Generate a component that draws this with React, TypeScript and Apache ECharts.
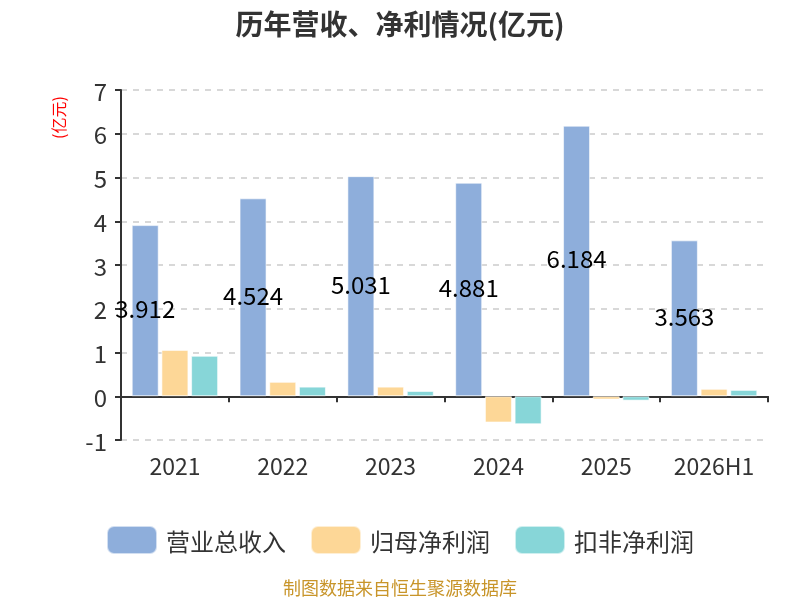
import React, { useEffect, useRef } from "react";
import * as echarts from "echarts";

const categories = ["2021", "2022", "2023", "2024", "2025", "2026H1"];
const revenue = [3.912, 4.524, 5.031, 4.881, 6.184, 3.563];
const netProfit = [1.06, 0.33, 0.22, -0.6, -0.075, 0.17];
const deductedProfit = [0.925, 0.22, 0.12, -0.64, -0.1, 0.145];
const seriesNames = ["营业总收入", "归母净利润", "扣非净利润"];
const colors = ["#8eaedb", "#fdd797", "#87d6d8"];

const FONT = "'Noto Sans CJK SC', 'Noto Sans', sans-serif";

export default function App() {
  const ref = useRef<HTMLDivElement>(null);
  useEffect(() => {
    if (!ref.current) return;
    const chart = echarts.init(ref.current, undefined, { renderer: "svg" });
    const mk = (name: string, data: number[], color: string, label: boolean) => ({
      name,
      type: "bar",
      data,
      barWidth: 27,
      barGap: "10%",
      itemStyle: { color, borderColor: "rgba(255,255,255,0.6)", borderWidth: 1 },
      label: label
        ? {
            show: true,
            position: "inside",
            offset: [0, -3],
            color: "#000",
            fontSize: 24,
            fontFamily: FONT,
          }
        : { show: false },
    });
    chart.setOption({
      animation: false,
      textStyle: { fontFamily: FONT },
      title: {
        text: "历年营收、净利情况(亿元)",
        left: "center",
        top: 8,
        padding: 0,
        textStyle: { fontSize: 28, fontWeight: "bold", color: "#333", fontFamily: FONT, lineHeight: 30 },
      },
      legend: {
        top: 520,
        left: "center",
        itemWidth: 50,
        itemHeight: 28,
        itemGap: 24,
        icon: "roundRect",
        textStyle: { fontSize: 24, color: "#333", fontFamily: FONT, padding: [0, 0, 0, 4] },
        data: seriesNames,
      },
      grid: { left: 121, right: 32, top: 90, bottom: 160, containLabel: false },
      xAxis: {
        type: "category",
        data: categories,
        axisLine: { lineStyle: { color: "#333", width: 2 } },
        axisTick: { show: true, length: 6, lineStyle: { color: "#333", width: 2 } },
        axisLabel: { fontSize: 23, color: "#333", margin: 13, interval: 0, fontFamily: FONT },
      },
      yAxis: {
        type: "value",
        min: -1,
        max: 7,
        interval: 1,
        axisLine: { show: true, lineStyle: { color: "#333", width: 2 } },
        axisTick: { show: true, length: 6, lineStyle: { color: "#333", width: 2 } },
        axisLabel: { fontSize: 24, color: "#333", margin: 14, fontFamily: FONT },
        splitLine: { lineStyle: { type: [6, 6], color: "#ccc", width: 1.5 } },
      },
      graphic: [
        {
          type: "text",
          x: 50,
          y: 139,
          rotation: Math.PI / 2,
          style: { text: "(亿元)", fill: "#ff0000", fontSize: 16, fontFamily: FONT },
        },
        {
          type: "text",
          left: "center",
          top: 578,
          style: {
            text: "制图数据来自恒生聚源数据库",
            fill: "#c8952a",
            fontSize: 18,
            fontFamily: FONT,
          },
        },
      ],
      series: [
        mk(seriesNames[0], revenue, colors[0], true),
        mk(seriesNames[1], netProfit, colors[1], false),
        mk(seriesNames[2], deductedProfit, colors[2], false),
      ],
    });
    return () => chart.dispose();
  }, []);
  return (
    <div
      ref={ref}
      style={{ position: "fixed", left: 0, top: 0, width: 800, height: 600 }}
    />
  );
}
